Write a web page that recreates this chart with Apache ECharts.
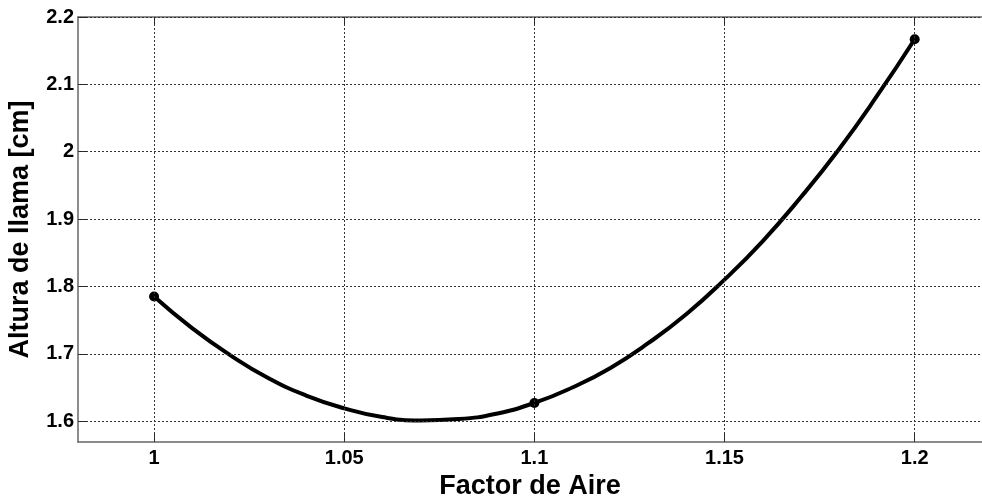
<!DOCTYPE html>
<html>
<head>
<meta charset="utf-8">
<script src="https://cdn.jsdelivr.net/npm/echarts@6/dist/echarts.min.js"></script>
<style>
	html, body { margin: 0; padding: 0; background: #fff; }
	#chart { width: 982px; height: 498px; }
</style>
</head>
<body>
<div id="chart"></div>
<script type="text/javascript">
	// measured points
	var factorAire = [1, 1.1, 1.2];
	var alturaLlama = [1.785, 1.627, 2.167];

	// fitted curve
	var curveX = [1, 1.01, 1.02, 1.03, 1.04, 1.05, 1.06, 1.07, 1.08, 1.09, 1.1,
		1.11, 1.12, 1.13, 1.14, 1.15, 1.16, 1.17, 1.18, 1.19, 1.2];
	var curveY = [1.785, 1.738, 1.698, 1.664, 1.638, 1.619, 1.606, 1.601, 1.603, 1.611, 1.627,
		1.650, 1.679, 1.716, 1.759, 1.810, 1.867, 1.932, 2.003, 2.082, 2.167];

	var xTicks = [1, 1.05, 1.1, 1.15, 1.2];
	var yTicks = [1.6, 1.7, 1.8, 1.9, 2, 2.1, 2.2];

	var font = 'Liberation Sans, Arial, sans-serif';
	var chart = echarts.init(document.getElementById('chart'));

	var gridLines = [];
	xTicks.forEach(function (v) { gridLines.push({ xAxis: v }); });
	yTicks.forEach(function (v) { gridLines.push({ yAxis: v }); });

	var option = {
		animation: false,
		grid: { left: 78, right: 0, top: 17, bottom: 56, outerBoundsMode: 'none', containLabel: false },
		xAxis: [
			{
				type: 'value', min: 0.98, max: 1.2177, position: 'bottom',
				name: 'Factor de Aire', nameLocation: 'middle', nameGap: 26,
				nameTextStyle: { fontFamily: font, fontWeight: 'bold', fontSize: 27, color: '#000' },
				axisLine: { show: true, onZero: false, lineStyle: { color: '#666', width: 1.5 } },
				axisTick: { show: true, inside: true, length: 9, customValues: xTicks, lineStyle: { color: '#222' } },
				axisLabel: { customValues: xTicks, margin: 6, fontFamily: font, fontWeight: 'bold', fontSize: 20, color: '#000',
					formatter: function (v) { return String(v); } },
				splitLine: { show: false }
			},
			{
				type: 'value', min: 0.98, max: 1.2177, position: 'top',
				axisLine: { show: true, onZero: false, lineStyle: { color: '#666', width: 1.5 } },
				axisTick: { show: true, inside: true, length: 9, customValues: xTicks, lineStyle: { color: '#222' } },
				axisLabel: { show: false },
				splitLine: { show: false }
			}
		],
		yAxis: [
			{
				type: 'value', min: 1.569, max: 2.2, position: 'left',
				name: 'Altura de llama [cm]', nameLocation: 'middle', nameGap: 44,
				nameTextStyle: { fontFamily: font, fontWeight: 'bold', fontSize: 27, color: '#000' },
				axisLine: { show: true, onZero: false, lineStyle: { color: '#666', width: 1.5 } },
				axisTick: { show: true, inside: true, length: 9, customValues: yTicks, lineStyle: { color: '#222' } },
				axisLabel: { customValues: yTicks, margin: 4, fontFamily: font, fontWeight: 'bold', fontSize: 20, color: '#000',
					formatter: function (v) { return String(v); } },
				splitLine: { show: false }
			}
		],
		series: [
			{
				name: 'grid',
				type: 'line',
				silent: true,
				z: 1,
				data: [],
				markLine: {
					silent: true,
					symbol: ['none', 'none'],
					label: { show: false },
					lineStyle: { type: [2, 2], color: '#333', width: 1 },
					data: gridLines
				}
			},
			{
				name: 'ajuste',
				type: 'line',
				z: 3,
				smooth: true,
				showSymbol: false,
				lineStyle: { color: '#000', width: 4 },
				data: curveX.map(function (x, i) { return [x, curveY[i]]; })
			},
			{
				name: 'datos',
				type: 'scatter',
				z: 4,
				symbolSize: 10,
				itemStyle: { color: '#000', opacity: 1 },
				data: factorAire.map(function (x, i) { return [x, alturaLlama[i]]; })
			}
		]
	};
	chart.setOption(option);
</script>
</body>
</html>
